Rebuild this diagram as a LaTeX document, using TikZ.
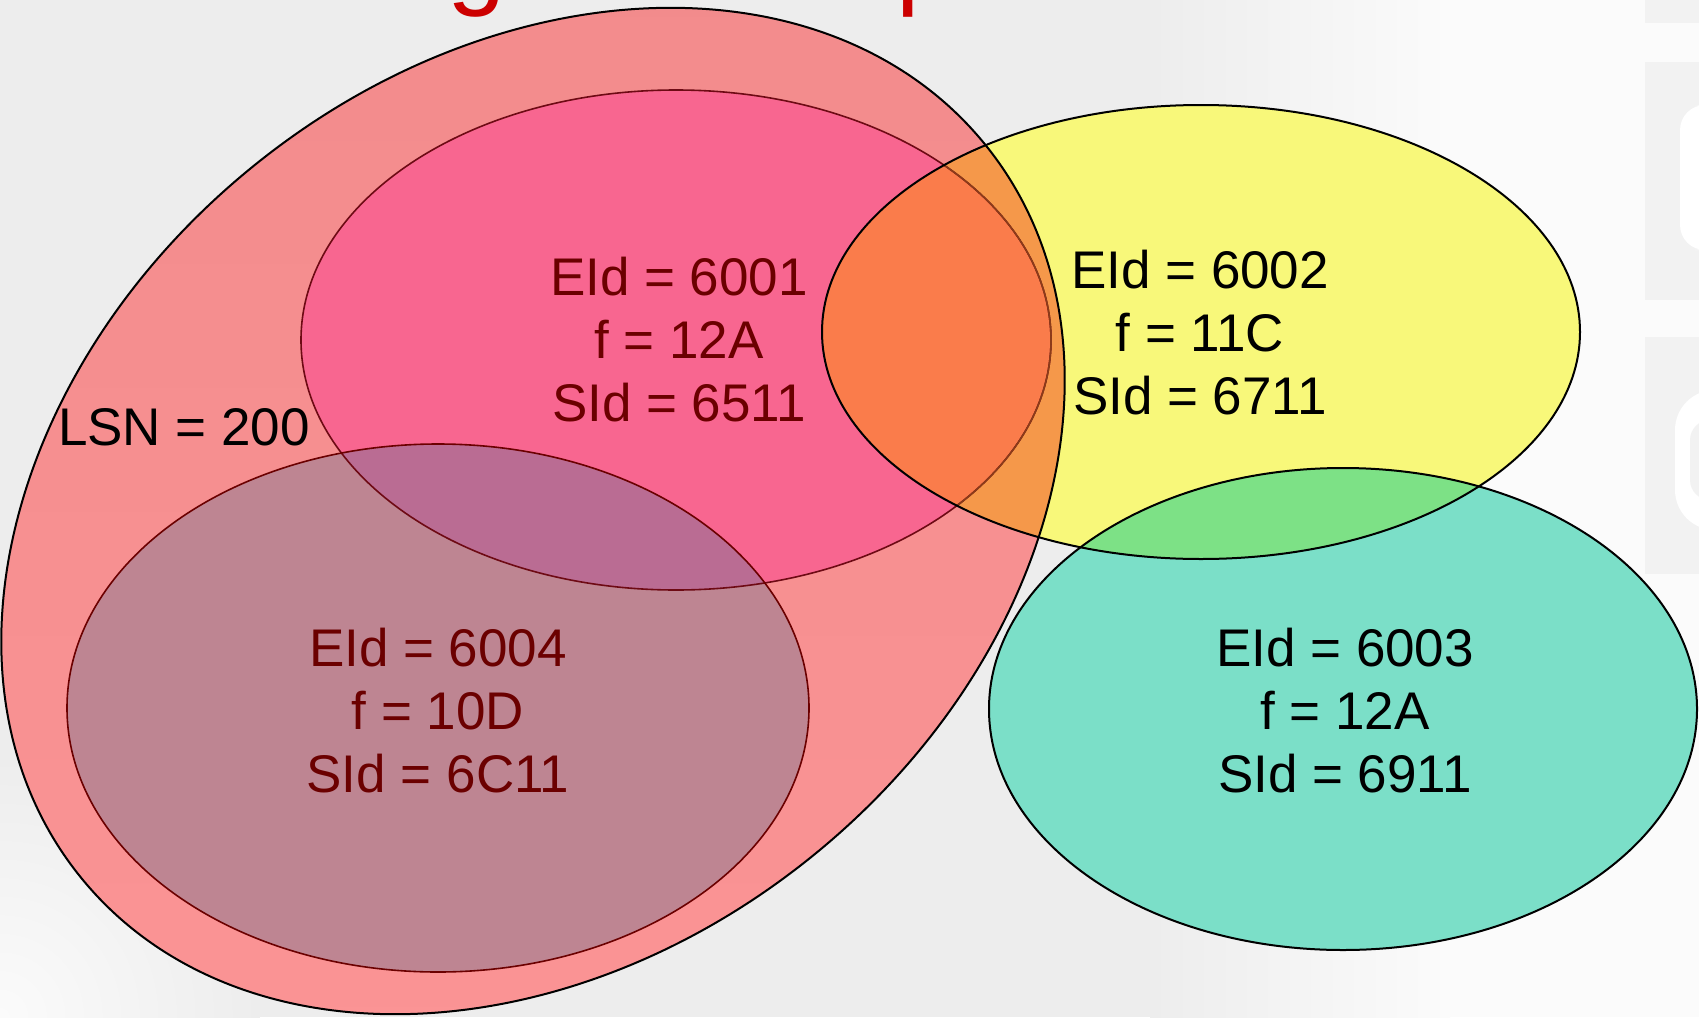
\documentclass[tikz,border=0pt]{standalone}
\usepackage{fontspec}
\setmainfont{Liberation Sans}
\begin{document}
\begin{tikzpicture}[x=1pt,y=-1pt,
  lbl/.style={align=center,inner sep=0pt,font=\fontsize{53}{63}\selectfont},
  blk/.style={draw=black,line width=2pt},
  drk/.style={draw=outlinered,line width=1.6pt}]
\definecolor{bgA}{HTML}{EDEDED}
\definecolor{bgB}{HTML}{FBFBFB}
\definecolor{cOuterT}{HTML}{F28B8C}
\definecolor{cOuterB}{HTML}{FB9495}
\definecolor{cPink}{HTML}{F86690}
\definecolor{cMauve}{HTML}{BE8592}
\definecolor{cPM}{HTML}{BA6C93}
\definecolor{cYel}{HTML}{F8F87A}
\definecolor{cPY}{HTML}{FA7C4B}
\definecolor{cOY}{HTML}{F5984A}
\definecolor{cTeal}{HTML}{7BDFC8}
\definecolor{cYT}{HTML}{7DE186}
\definecolor{outlinered}{HTML}{6E0A14}
\definecolor{txtred}{HTML}{6B0000}
\definecolor{titlered}{HTML}{CC0000}
\def\outerE{(533,511) circle [x radius=582, y radius=444, rotate=39]}
\def\pinkE{(676,340) circle [x radius=375, y radius=250]}
\def\yelE{(1201,332) circle [x radius=379, y radius=227]}
\def\tealE{(1343,709) circle [x radius=354, y radius=241]}
\def\mauveE{(438,708) circle [x radius=371, y radius=264]}
\useasboundingbox (0,0) rectangle (1699,1017);
\clip (0,0) rectangle (1699,1017);
% background
\fill[bgA] (0,0) rectangle (1699,1017);
\shade[left color=bgA,right color=bgB] (1150,0) rectangle (1450,1017);
\fill[bgB] (1450,0) rectangle (1699,1017);
\shade[inner color=bgB,outer color=bgA] (0,1017) circle [radius=260];
\fill[black!5] (1645,0) rectangle (1699,23);
\fill[black!5] (1645,62) rectangle (1699,300);
\fill[black!5] (1645,337) rectangle (1699,574);
\fill[white,rounded corners=25pt] (1680,105) rectangle (1720,250);
\fill[white,rounded corners=40pt] (1675,390) rectangle (1740,530);
\fill[black!5,rounded corners=20pt] (1690,420) rectangle (1740,500);
% title fragments
\node[anchor=base west,inner sep=0pt,text=titlered,font=\fontsize{105}{105}\selectfont] (tg) at (447,-5) {g};
\node[anchor=base west,inner sep=0pt,text=titlered,font=\fontsize{105}{105}\selectfont] (tp) at (896,-5) {p};
% fills
\shade[top color=cOuterT,bottom color=cOuterB] \outerE;
\fill[cPink] \pinkE;
\fill[cMauve] \mauveE;
\fill[cYel] \yelE;
\fill[cTeal] \tealE;
\begin{scope}\clip \outerE; \fill[cOY] \yelE; \end{scope}
\begin{scope}\clip \pinkE; \fill[cPY] \yelE; \end{scope}
\begin{scope}\clip \pinkE; \fill[cPM] \mauveE; \end{scope}
\begin{scope}\clip \yelE; \fill[cYT] \tealE; \end{scope}
% outlines
\draw[drk] \pinkE;
\begin{scope}\clip \yelE; \draw[draw={rgb,255:red,140;green,60;blue,25},line width=1.6pt] \pinkE; \end{scope}
\draw[drk,draw=txtred] \mauveE;
\draw[blk] \yelE;
\draw[blk] \tealE;
\draw[blk] \outerE;
% labels
\node[lbl] (lsn) at (184,427) {LSN = 200};
\node[lbl,text=txtred] (e1) at (679,340) {EId = 6001\\f = 12A\\SId = 6511};
\node[lbl] (e2) at (1200,333) {EId = 6002\\f = 11C\\SId = 6711};
\node[lbl] (e3) at (1345,711) {EId = 6003\\f = 12A\\SId = 6911};
\node[lbl,text=txtred] (e4) at (438,711) {EId = 6004\\f = 10D\\SId = 6C11};
\end{tikzpicture}
\end{document}
